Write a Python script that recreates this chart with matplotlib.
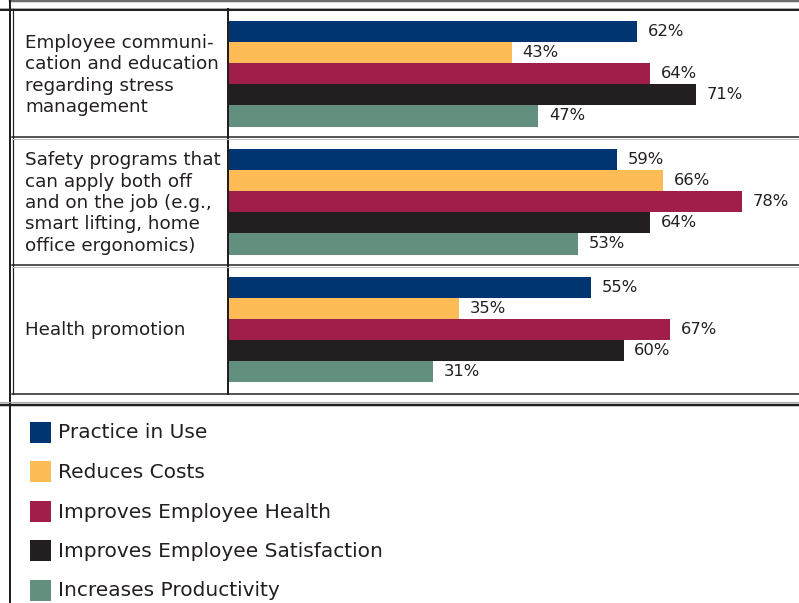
import numpy as np
import matplotlib
matplotlib.use('Agg')
import matplotlib.pyplot as plt

#%% - Data
practices = ['Employee communi-\ncation and education\nregarding stress\nmanagement',
             'Safety programs that\ncan apply both off\nand on the job (e.g.,\nsmart lifting, home\noffice ergonomics)',
             'Health promotion']
series = ['Practice in Use', 'Reduces Costs', 'Improves Employee Health',
          'Improves Employee Satisfaction', 'Increases Productivity']
in_use = [62, 59, 55]
reduces_costs = [43, 66, 35]
improves_health = [64, 78, 67]
improves_satisfaction = [71, 64, 60]
increases_productivity = [47, 53, 31]
values = [in_use, reduces_costs, improves_health, improves_satisfaction, increases_productivity]
colors = ['#003572', '#fdbc55', '#a21e4a', '#231f20', '#628f7e']

txt = '#231f20'
W, H = 799, 603
px = 0.72  # 1 px in points at dpi 100

fig = plt.figure(figsize=(W / 100, H / 100), dpi=100)

#%% - Background axes in pixel coords for the table frame
bg = fig.add_axes([0, 0, 1, 1])
bg.set_xlim(0, W)
bg.set_ylim(H, 0)
bg.axis('off')

bg.plot([10, W], [1, 1], color='#6d6e70', lw=2.5 * px)
bg.plot([0, W], [7.5, 7.5], color='#a7a9ac', lw=1 * px)
bg.plot([0, W], [9.5, 9.5], color='#231f20', lw=2 * px)
bg.plot([10, 10], [0, H], color='#231f20', lw=2 * px)
bg.plot([12.5, 12.5], [9, 394], color='#231f20', lw=1.2 * px)
bg.plot([228, 228], [9, 394], color='#231f20', lw=2 * px)
for y in [137, 265]:
    bg.plot([12, W], [y, y], color='#231f20', lw=1.5 * px)
    bg.plot([12, W], [y + 1.8, y + 1.8], color='#bcbec0', lw=1 * px)
bg.plot([12, W], [393.5, 393.5], color='#231f20', lw=1.5 * px)
bg.plot([0, W], [402, 402], color='#a7a9ac', lw=1 * px)
bg.plot([0, W], [404.5, 404.5], color='#231f20', lw=2.5 * px)

# row labels
row_centers = [75, 203, 330]
for lab, yc in zip(practices, row_centers):
    bg.text(25, yc, lab, ha='left', va='center', fontsize=13.2, color=txt,
            linespacing=1.24, family='DejaVu Sans')

# legend
for i, (name, c) in enumerate(zip(series, colors)):
    yc = 432 + 39.5 * i
    bg.add_patch(plt.Rectangle((30, yc - 10.5), 21, 21, color=c, lw=0))
    bg.text(58, yc + 1, name, ha='left', va='center', fontsize=14.5, color=txt,
            family='DejaVu Sans')

#%% - Bars
ax = fig.add_axes([229 / W, (H - 393.5) / H, 570 / W, 384 / H])
ax.set_xlim(0, 570 / 6.58)
ax.set_ylim(2.5, -0.5)
ax.axis('off')

bh = 21.2 / 128
y = np.arange(len(practices))
for j, (vals, c) in enumerate(zip(values, colors)):
    yy = y + (j - 2) * bh
    ax.barh(yy, vals, height=bh, color=c, lw=0)
    for v, yv in zip(vals, yy):
        ax.text(v + 1.6, yv, f'{v}%', ha='left', va='center', fontsize=11.8,
                color=txt, family='DejaVu Sans')

fig.savefig('out.png', dpi=100)
